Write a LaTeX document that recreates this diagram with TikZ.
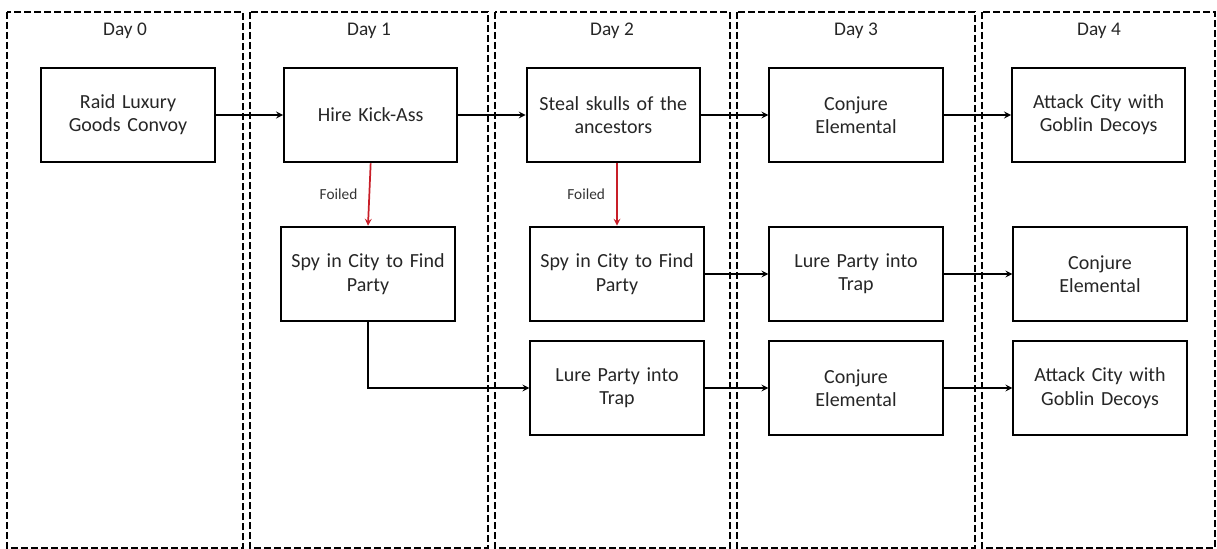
\documentclass[tikz,border=0pt]{standalone}
\usepackage{fontspec}
\setmainfont{Carlito}
\usepackage{xcolor}
\definecolor{foilred}{RGB}{200,30,40}
\usetikzlibrary{positioning,arrows}

\begin{document}
\begin{tikzpicture}[x=0.75pt,y=-0.75pt,->,>=stealth,line width=1.3pt,node distance=182pt,
    task/.style={draw,-,line width=1.4pt,minimum width=130pt,minimum height=71pt,align=center,text width=118pt,text=black!85,font=\fontsize{15}{17.5}\selectfont},
    daycol/.style={draw,-,dashed,line width=1.2pt,dash pattern=on 5pt off 2.5pt},
    daylabel/.style={text=black!85,font=\fontsize{14.5}{17}\selectfont}]

    \useasboundingbox (0,0) rectangle (1217,549);

    % day columns
    \draw[daycol] (7,12) rectangle (243,548);
    \draw[daycol] (250,12) rectangle (488,548);
    \draw[daycol] (495,12) rectangle (730,548);
    \draw[daycol] (737,12) rectangle (975,548);
    \draw[daycol] (982,12) rectangle (1215,548);

    \node[daylabel] (day0) at (125,31) {Day 0};
    \node[daylabel] (day1) at (369,31) {Day 1};
    \node[daylabel] (day2) at (612,31) {Day 2};
    \node[daylabel] (day3) at (856,31) {Day 3};
    \node[daylabel] (day4) at (1099,31) {Day 4};

    % first row
    \node[task] (raid) at (128,115) {Raid Luxury\\Goods Convoy};
    \node[task] (hire) [right of = raid] {Hire Kick-Ass};
    \node[task] (skulls) [right of = hire] {Steal skulls of the\\ancestors};
    \node[task] (conjure1) [right of = skulls] {Conjure\\Elemental};
    \node[task] (attack1) [right of = conjure1] {Attack City with\\Goblin Decoys};

    % second row
    \node[task] (spy1) at (368,274) {Spy in City to Find\\Party};
    \node[task] (spy2) at (617,274) {Spy in City to Find\\Party};
    \node[task] (lure2) at (856,274) {Lure Party into\\Trap};
    \node[task] (conjure2) at (1100,274) {Conjure\\Elemental};

    % third row
    \node[task] (lure1) at (617,388) {Lure Party into\\Trap};
    \node[task] (conjure3) at (856,388) {Conjure\\Elemental};
    \node[task] (attack2) at (1100,388) {Attack City with\\Goblin Decoys};

    \path[every node/.style={font=\fontsize{11.5}{13}\selectfont,text=black!80}]
        (raid) edge (hire)
        (hire) edge (skulls)
        (skulls) edge (conjure1)
        (conjure1) edge (attack1)
        (hire.south) edge[foilred] node[left,xshift=-5pt]{Foiled} (spy1.north)
        (skulls.south -| spy2.north) edge[foilred] node[left,xshift=-5pt]{Foiled} (spy2.north)
        (spy2) edge (lure2)
        (lure2) edge (conjure2)
        (lure1) edge (conjure3)
        (conjure3) edge (attack2)
    ;
    \draw (spy1.south) |- (lure1.west);
\end{tikzpicture}
\end{document}
